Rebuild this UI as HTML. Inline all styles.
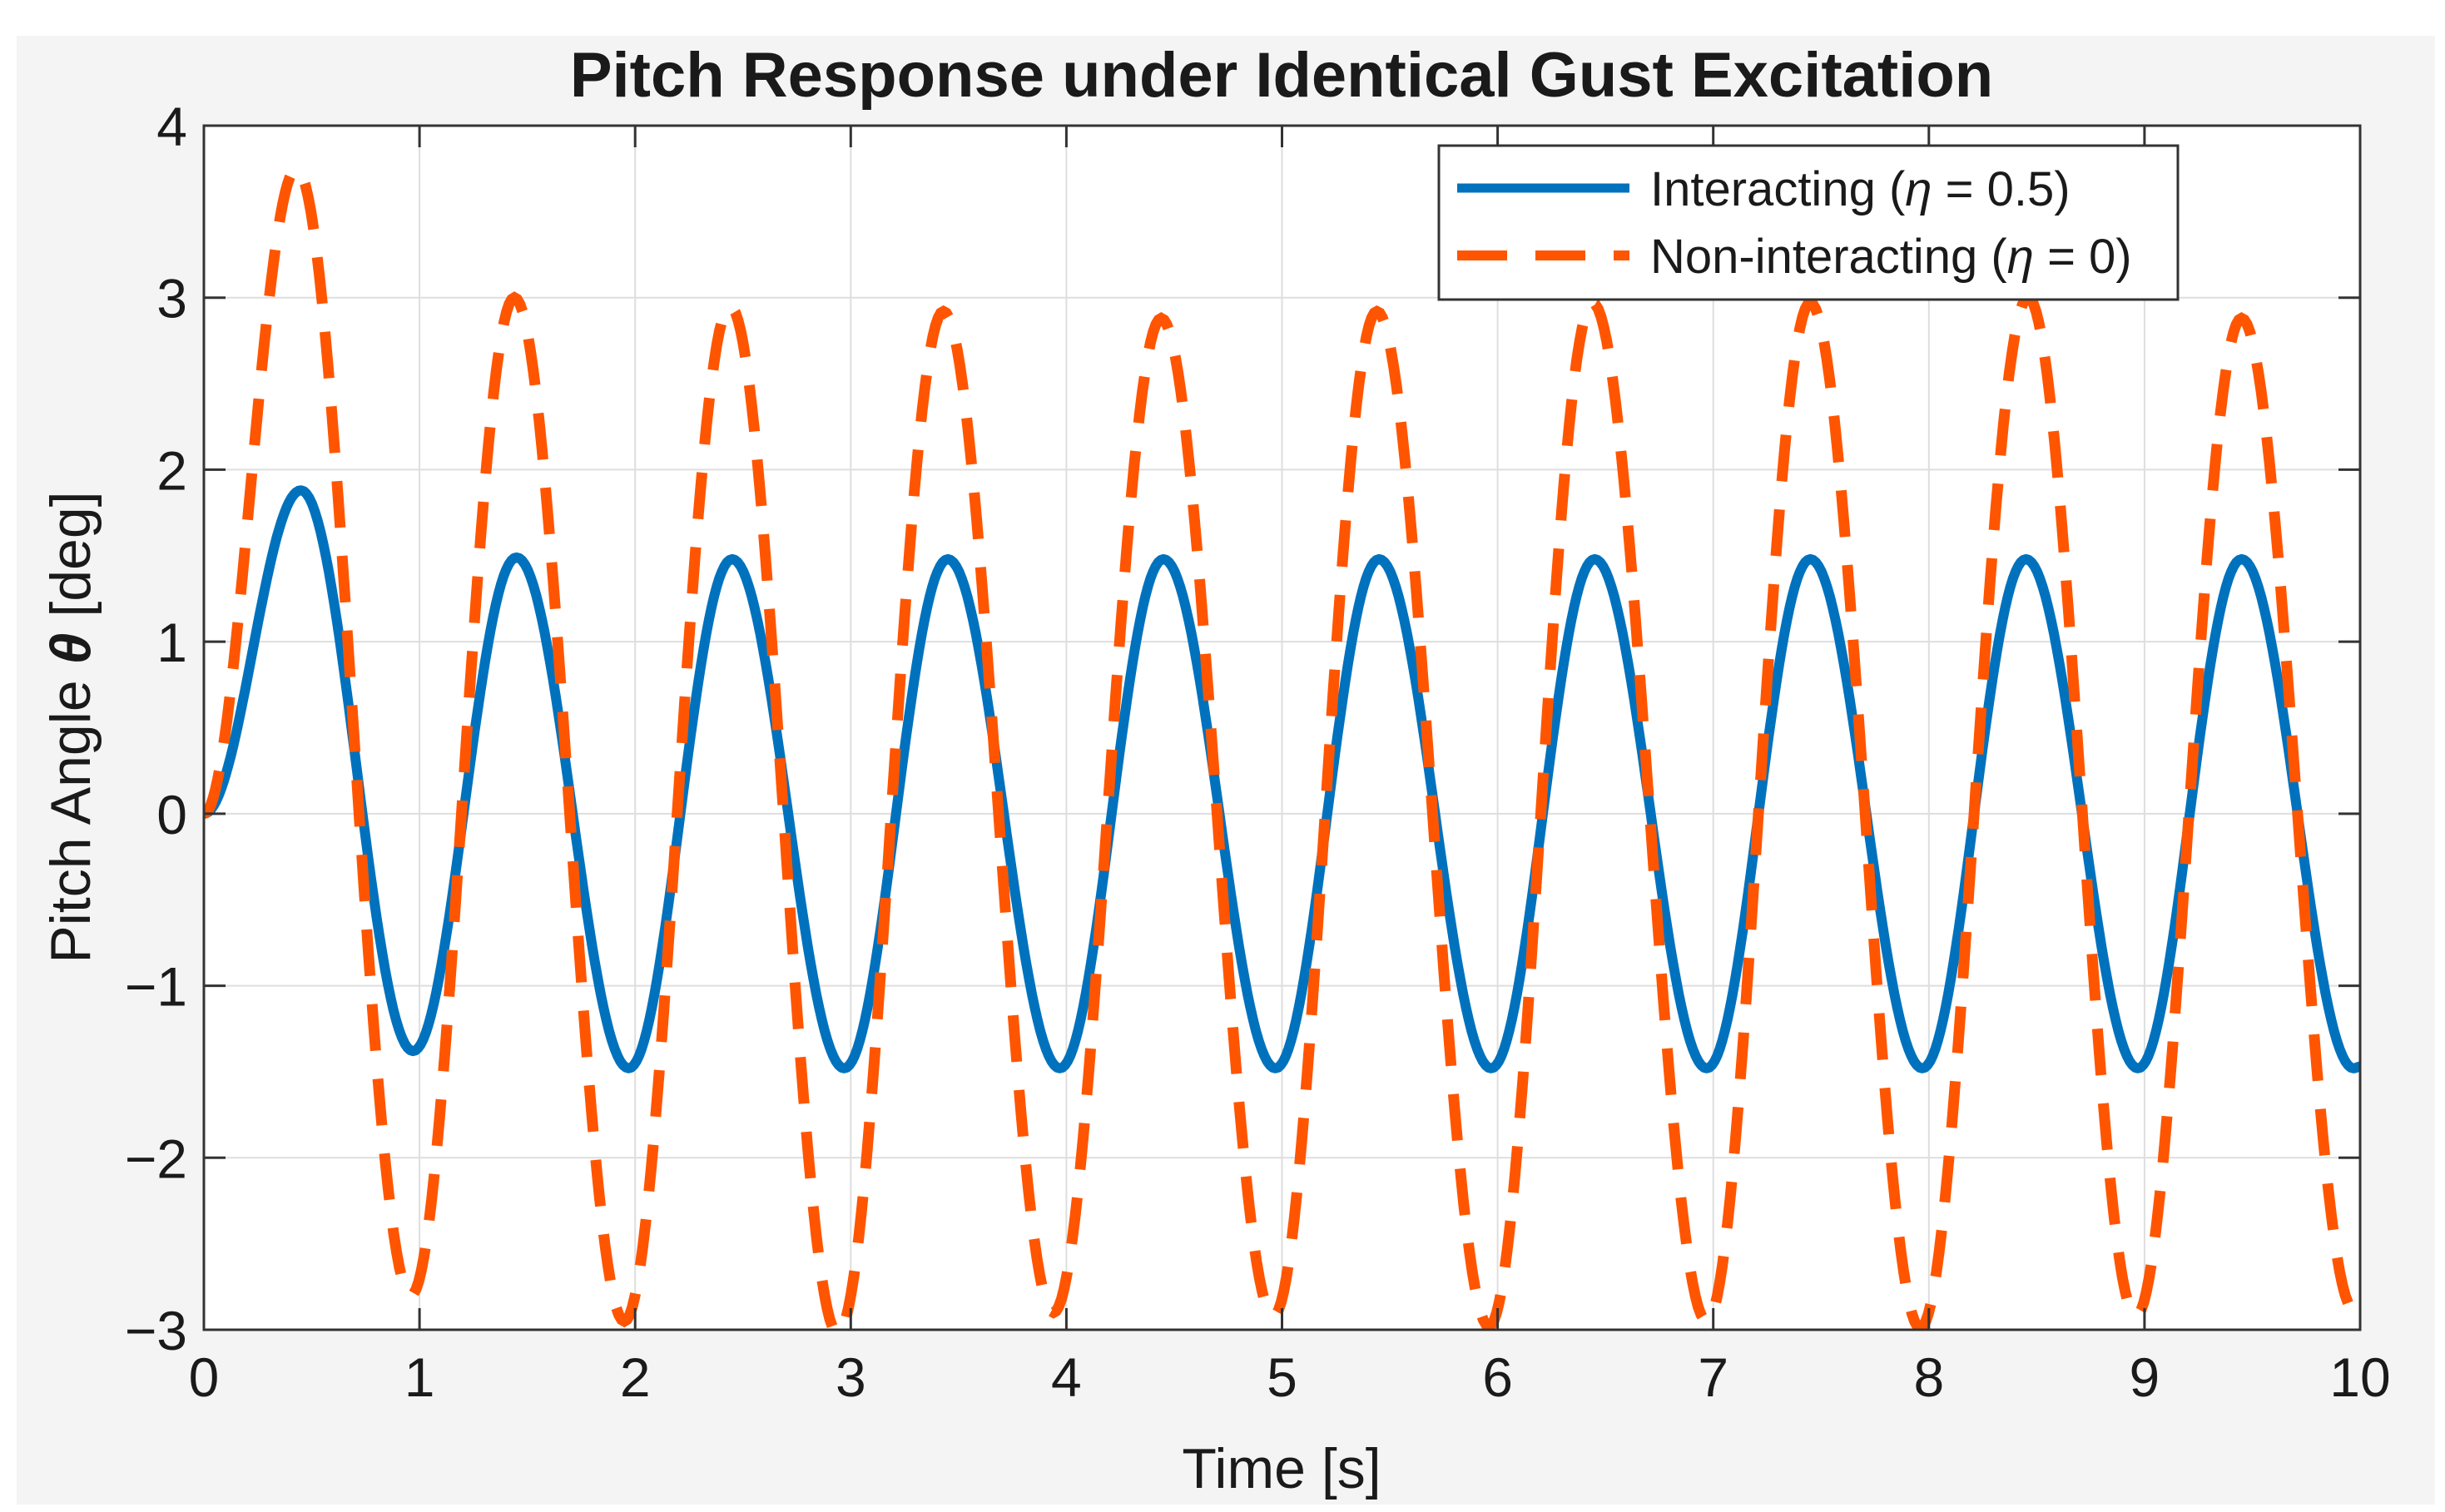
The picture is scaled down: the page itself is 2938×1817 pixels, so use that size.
<!DOCTYPE html>
<html><head><meta charset="utf-8"><style>
html,body{margin:0;padding:0;background:#fff;}
svg{display:block;}
text{font-family:"Liberation Sans",Arial,sans-serif;fill:#1a1a1a;}
</style></head><body>
<svg id="chart" width="2938" height="1817" viewBox="0 0 2938 1817">
<rect x="20" y="43" width="2906" height="1765" fill="#f4f4f4"/>
<rect x="245" y="151" width="2591" height="1447" fill="#ffffff"/>
<g id="grid"></g>
<defs><clipPath id="clip"><rect x="245" y="151" width="2591" height="1447"/></clipPath></defs>
<g id="series" clip-path="url(#clip)"></g>
<rect x="245" y="151" width="2591" height="1447" fill="none" stroke="#333" stroke-width="3"/>
<g id="ticks"></g>
<text x="1540" y="116" text-anchor="middle" font-size="76" font-weight="bold">Pitch Response under Identical Gust Excitation</text>
<text x="1540" y="1788" text-anchor="middle" font-size="68">Time [s]</text>
<text transform="translate(108,874) rotate(-90)" text-anchor="middle" font-size="68">Pitch Angle <tspan font-style="italic" font-weight="bold">θ</tspan> [deg]</text>
<g>
<rect x="1729" y="175" width="888" height="185" fill="#fff" stroke="#333" stroke-width="3"/>
<line x1="1751" y1="226" x2="1958" y2="226" stroke="#0072BD" stroke-width="11"/>
<text x="1983" y="247" font-size="58">Interacting (<tspan font-style="italic">η</tspan> = 0.5)</text>
<line x1="1751" y1="307" x2="1958" y2="307" stroke="#FF5500" stroke-width="12" stroke-dasharray="60,34"/>
<text x="1983" y="328" font-size="58">Non-interacting (<tspan font-style="italic">η</tspan> = 0)</text>
</g>
</svg>
<script>
const xTicks = [0,1,2,3,4,5,6,7,8,9,10];
const yTicks = [-3,-2,-1,0,1,2,3,4];
const yTickLabels = ["−3","−2","−1","0","1","2","3","4"];
const blueT = [0,0.45,0.97,1.45,1.97,2.45,2.97,3.45,3.97,4.45,4.97,5.45,5.97,6.45,6.97,7.45,7.97,8.45,8.97,9.45,9.97,10];
const blueV = [0,1.88,-1.38,1.49,-1.48,1.48,-1.48,1.48,-1.48,1.48,-1.48,1.48,-1.48,1.48,-1.48,1.48,-1.48,1.48,-1.48,1.48,-1.48,-1.47];
const orangeT = [0,0.43,0.96,1.44,1.95,2.44,2.94,3.43,3.94,4.44,4.96,5.44,5.96,6.44,6.97,7.45,7.96,8.46,8.96,9.45,9.97,10];
const orangeV = [0,3.75,-2.8,3.0,-2.95,2.95,-3.02,2.92,-2.9,2.88,-2.92,2.92,-2.98,2.97,-2.95,2.97,-2.99,3.0,-2.92,2.88,-2.88,-2.85];

const X0=245,X1=2836,Y0=151,Y1=1598;
const xs = t => X0 + (t-0)/(10-0)*(X1-X0);
const ys = v => Y1 - (v-(-3))/(4-(-3))*(Y1-Y0);
const NS="http://www.w3.org/2000/svg";
const grid=document.getElementById('grid'), ticks=document.getElementById('ticks'), series=document.getElementById('series');
function mk(tag,attrs,parent){const e=document.createElementNS(NS,tag);for(const k in attrs)e.setAttribute(k,attrs[k]);parent.appendChild(e);return e;}

xTicks.forEach((t,i)=>{
  const x=xs(t);
  const g=mk('line',{x1:x,y1:Y0,x2:x,y2:Y1,stroke:'#dedede','stroke-width':2},grid);
  
  
  const tk=mk('line',{x1:x,y1:Y1,x2:x,y2:Y1-26,stroke:'#333','stroke-width':3},ticks);
  
  
  const tk2=mk('line',{x1:x,y1:Y0,x2:x,y2:Y0+26,stroke:'#333','stroke-width':3},ticks);
  
  
  const lb=mk('text',{x:x,y:Y1+80,'text-anchor':'middle','font-size':66},ticks);
  lb.textContent=String(t);
  
  
});
yTicks.forEach((v,i)=>{
  const y=ys(v);
  const g=mk('line',{x1:X0,y1:y,x2:X1,y2:y,stroke:'#dedede','stroke-width':2},grid);
  
  
  const tk=mk('line',{x1:X0,y1:y,x2:X0+26,y2:y,stroke:'#333','stroke-width':3},ticks);
  
  
  const tk2=mk('line',{x1:X1,y1:y,x2:X1-26,y2:y,stroke:'#333','stroke-width':3},ticks);
  
  
  const lb=mk('text',{x:X0-20,y:y+24,'text-anchor':'end','font-size':66},ticks);
  lb.textContent=yTickLabels[i];
  
  
});

function smoothPath(T,V){
  let d='M'+xs(T[0]).toFixed(1)+','+ys(V[0]).toFixed(1);
  for(let i=0;i<T.length-1;i++){
    const n=40;
    for(let k=1;k<=n;k++){
      const f=k/n, w=(1-Math.cos(Math.PI*f))/2;
      const t=T[i]+(T[i+1]-T[i])*f, v=V[i]+(V[i+1]-V[i])*w;
      d+=' L'+xs(t).toFixed(1)+','+ys(v).toFixed(1);
    }
  }
  return d;
}
const pb=mk('path',{d:smoothPath(blueT,blueV),fill:'none',stroke:'#0072BD','stroke-width':12,'stroke-linejoin':'round'},series);


const po=mk('path',{d:smoothPath(orangeT,orangeV),fill:'none',stroke:'#FF5500','stroke-width':13,'stroke-dasharray':'56,34'},series);


</script>
</body></html>
